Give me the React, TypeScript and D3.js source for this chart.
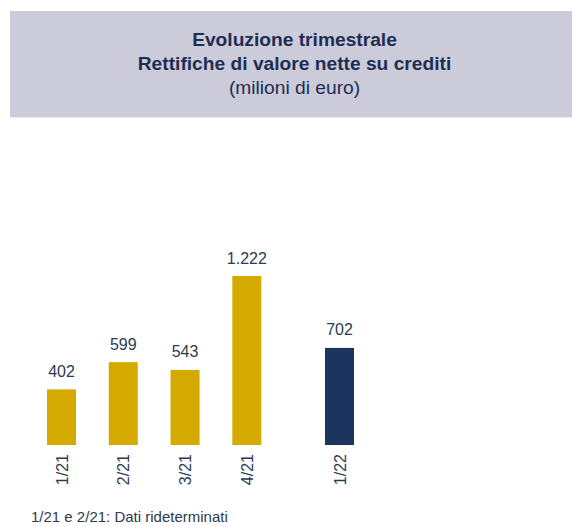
import React from 'react';
import * as d3 from 'd3';

// quarterly net value adjustments on loans (millions of euro)
const quarters = ['1/21', '2/21', '3/21', '4/21', '1/22'];
const values = [402, 599, 543, 1222, 702];
const valueLabels = ['402', '599', '543', '1.222', '702'];
const titleLines = ['Evoluzione trimestrale', 'Rettifiche di valore nette su crediti'];
const subtitle = '(milioni di euro)';
const footnote = '1/21 e 2/21: Dati rideterminati';

const W = 572;
const H = 527;
const FONT = 'Liberation Sans, Arial, sans-serif';
const GOLD = '#d4aa00';
const NAVY = '#1b355f';
const TEXT = '#2d3a4f';

export default function App() {
  const baseline = 445;
  const barW = 29;

  // last quarter sits after a half-slot gap
  const slot = (i: number) => i + (i >= 4 ? 0.5 : 0);
  const x = d3.scaleLinear().domain([0, 4.5]).range([61.5, 339.5]);
  const y = d3.scaleLinear().domain([0, 1222]).range([baseline, 276]);

  return (
    <svg width={W} height={H} style={{ position: 'absolute', left: 0, top: 0 }}>
      <rect x={0} y={0} width={W} height={H} fill="#ffffff" />
      <rect x={10} y={11} width={W - 10} height={106} fill="#cccbda" />
      <line x1={10} x2={W} y1={117.5} y2={117.5} stroke="#ebeaf2" strokeWidth={1} />
      {titleLines.map((t, i) => (
        <text key={t} x={294.5} y={46 + i * 24} textAnchor="middle" fontFamily={FONT}
          fontWeight="bold" fontSize={19.2} fill="#1e2d52">{t}</text>
      ))}
      <text x={294.5} y={94} textAnchor="middle" fontFamily={FONT} fontSize={19.2} fill="#1e2d52">
        {subtitle}
      </text>

      {values.map((v, i) => {
        const cx = x(slot(i));
        return (
          <g key={quarters[i]}>
            <rect x={cx - barW / 2} y={y(v)} width={barW} height={baseline - y(v)}
              fill={i === 4 ? NAVY : GOLD} />
            <text x={cx} y={y(v) - 12.5} textAnchor="middle" fontFamily={FONT}
              fontSize={16} fill={TEXT}>{valueLabels[i]}</text>
            <text transform={`translate(${cx + 6},${baseline + 9}) rotate(-90)`}
              textAnchor="end" fontFamily={FONT} fontSize={16} fill={TEXT}>{quarters[i]}</text>
          </g>
        );
      })}

      <text x={31} y={522} fontFamily={FONT} fontSize={15} fill={TEXT}>{footnote}</text>
    </svg>
  );
}
